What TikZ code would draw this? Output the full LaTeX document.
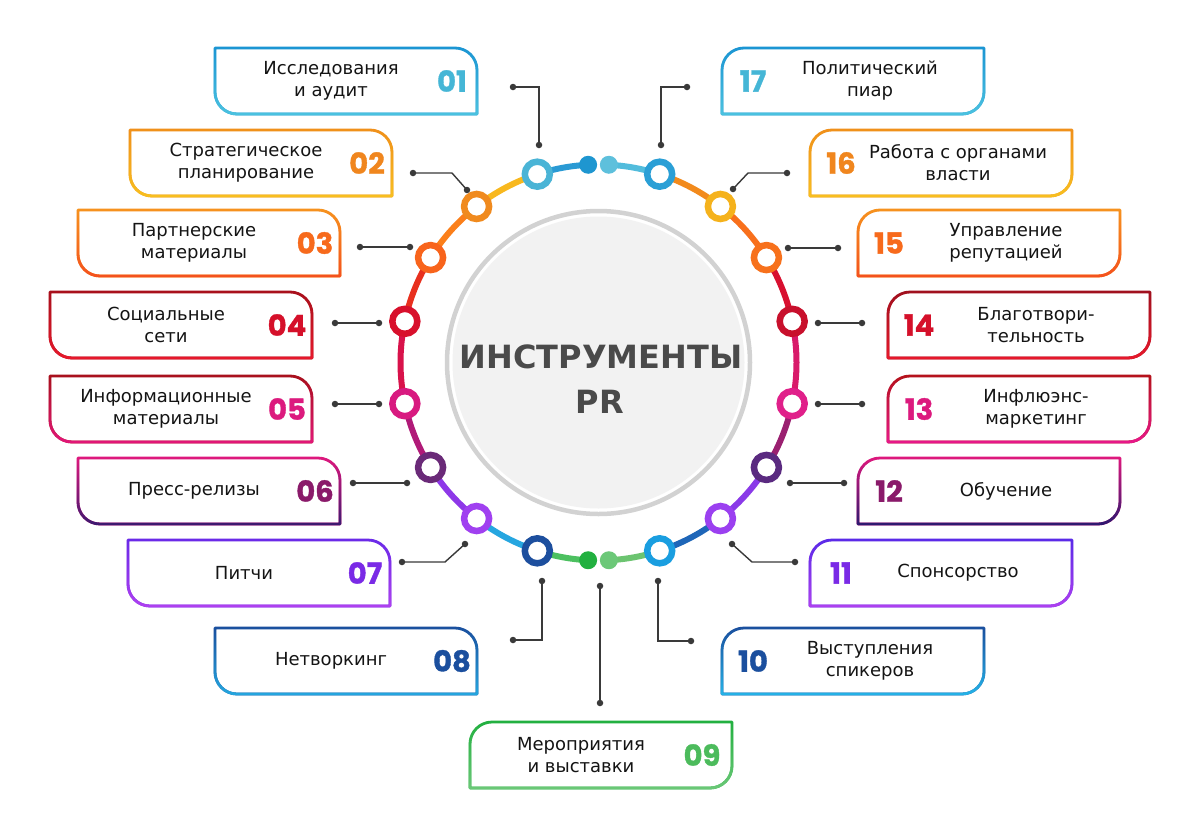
\documentclass[tikz,border=0pt]{standalone}
\usepackage{fontspec}
\setmainfont{DejaVu Sans}
\newfontfamily\numfont{Poppins}[BoldFeatures={FakeBold=1.2}]
\usetikzlibrary{fadings,calc}
\definecolor{connc}{HTML}{3A3A3A}
\definecolor{cgrey}{HTML}{D2D2D2}
\definecolor{cfill}{HTML}{F2F2F2}
\definecolor{titlec}{HTML}{4A4A4A}
% box colours
\definecolor{b01t}{HTML}{1B95D3}\definecolor{b01b}{HTML}{4CC3E0}\definecolor{n01}{HTML}{45B6D6}
\definecolor{b02t}{HTML}{F0901A}\definecolor{b02b}{HTML}{F8C020}\definecolor{n02}{HTML}{F0861E}
\definecolor{b03t}{HTML}{F7931E}\definecolor{b03b}{HTML}{F4501E}\definecolor{n03}{HTML}{F76A1C}
\definecolor{b04t}{HTML}{A8101C}\definecolor{b04b}{HTML}{E8192C}\definecolor{n04}{HTML}{D5102A}
\definecolor{b05t}{HTML}{A8101C}\definecolor{b05b}{HTML}{E3177A}\definecolor{n05}{HTML}{DC1A7E}
\definecolor{b06t}{HTML}{E0187E}\definecolor{b06b}{HTML}{3A1A70}\definecolor{n06}{HTML}{8A1A6A}
\definecolor{b07t}{HTML}{6A2AE8}\definecolor{b07b}{HTML}{B040F0}\definecolor{n07}{HTML}{7A2AE6}
\definecolor{b08t}{HTML}{1A4F9E}\definecolor{b08b}{HTML}{25A8E0}\definecolor{n08}{HTML}{1B4F9E}
\definecolor{b09t}{HTML}{22B040}\definecolor{b09b}{HTML}{6CC878}\definecolor{n09}{HTML}{4CBB5C}
\definecolor{b10t}{HTML}{1A4F9E}\definecolor{b10b}{HTML}{25B4E8}\definecolor{n10}{HTML}{1B4F9E}
\definecolor{b11t}{HTML}{5A2AE8}\definecolor{b11b}{HTML}{B040F0}\definecolor{n11}{HTML}{7A2AE6}
\definecolor{b12t}{HTML}{E0187E}\definecolor{b12b}{HTML}{2A1A70}\definecolor{n12}{HTML}{8A1A6A}
\definecolor{b13t}{HTML}{B5121B}\definecolor{b13b}{HTML}{E8188C}\definecolor{n13}{HTML}{DC1A7E}
\definecolor{b14t}{HTML}{A0101E}\definecolor{b14b}{HTML}{E8192C}\definecolor{n14}{HTML}{D5102A}
\definecolor{b15t}{HTML}{F7931E}\definecolor{b15b}{HTML}{F4501E}\definecolor{n15}{HTML}{F76A1C}
\definecolor{b16t}{HTML}{F0901A}\definecolor{b16b}{HTML}{F8C020}\definecolor{n16}{HTML}{F0861E}
\definecolor{b17t}{HTML}{1B95D3}\definecolor{b17b}{HTML}{4CC3E0}\definecolor{n17}{HTML}{45B6D6}
% ring circle colours
\definecolor{r01}{HTML}{4AB4D6}\definecolor{r02}{HTML}{F08A1E}\definecolor{r03}{HTML}{F8641C}
\definecolor{r04}{HTML}{D8102C}\definecolor{r05}{HTML}{D81A80}\definecolor{r06}{HTML}{6A2A78}
\definecolor{r07}{HTML}{A040F0}\definecolor{r08}{HTML}{1D4F9E}\definecolor{r10}{HTML}{1A9EE0}
\definecolor{r11}{HTML}{9B40F0}\definecolor{r12}{HTML}{5A2A80}\definecolor{r13}{HTML}{E0208A}
\definecolor{r14}{HTML}{C8102C}\definecolor{r15}{HTML}{F7711C}\definecolor{r16}{HTML}{F5B21C}
\definecolor{r17}{HTML}{2A9FD6}
% segment colours
\definecolor{s1}{HTML}{2A9AD4}\definecolor{s2}{HTML}{F8B81E}\definecolor{s3}{HTML}{FB7F1A}
\definecolor{s4}{HTML}{E8301E}\definecolor{s5}{HTML}{D8124A}\definecolor{s6}{HTML}{B01A78}
\definecolor{s7}{HTML}{8E38E8}\definecolor{s8}{HTML}{26A6E0}\definecolor{s9}{HTML}{4CC060}
\definecolor{t1}{HTML}{52BCDC}\definecolor{t2}{HTML}{F28A1C}\definecolor{t3}{HTML}{F8701C}
\definecolor{t4}{HTML}{D81030}\definecolor{t5}{HTML}{D81A6A}\definecolor{t6}{HTML}{9A2070}
\definecolor{t7}{HTML}{8A3AE8}\definecolor{t8}{HTML}{1E66B8}\definecolor{t9}{HTML}{6CC470}
\definecolor{e1}{HTML}{1E96D0}\definecolor{e2}{HTML}{5EC0DC}\definecolor{e3}{HTML}{22B040}\definecolor{e4}{HTML}{6CC878}

\tikzset{
  boxtext/.style={align=center,font=\fontsize{18}{22}\selectfont,text=black!92,inner sep=0pt},
  numtext/.style={font=\numfont\bfseries\fontsize{29}{29}\selectfont,inner sep=0pt},
  boxframe/.style={line width=2.8pt,line join=round},
  ringnode/.style={circle,draw=#1,line width=6.5pt,fill=white,minimum size=25pt,inner sep=0pt},
  enddot/.style={circle,fill=#1,minimum size=18pt,inner sep=0pt},
  dotnode/.style={circle,fill=connc,minimum size=6.5pt,inner sep=0pt},
  conn/.style={draw=connc,line width=1.4pt},
  seg/.style={line width=6pt},
  titletext/.style={font=\bfseries\fontsize{32}{32}\selectfont,text=titlec,inner sep=0pt}
}
\def\LPath#1#2{(#1,-#2) -- ({#1+240},-#2) arc[start angle=90,end angle=0,radius=22] -- ({#1+262},{-#2-66}) -- ({#1+22},{-#2-66}) arc[start angle=270,end angle=180,radius=22] -- cycle}
\def\RPath#1#2{(#1,{-#2-66}) -- (#1,{-#2-22}) arc[start angle=180,end angle=90,radius=22] -- ({#1+262},-#2) -- ({#1+262},{-#2-44}) arc[start angle=0,end angle=-90,radius=22] -- cycle}
% #1 id, #2 left, #3 top, #4 text, #5 text offset, #6 number offset
\newcommand\LBox[6]{%
  \draw[boxframe,draw=b#1t] \LPath{#2}{#3};
  \draw[boxframe,draw=b#1b,path fading=north] \LPath{#2}{#3};
  \node[boxtext] (bx#1) at ({#2+#5},{-#3-33}) {#4};
  \node[numtext,text=n#1] (nb#1) at ({#2+#6},{-#3-33}) {#1};
}
\newcommand\RBox[6]{%
  \draw[boxframe,draw=b#1t] \RPath{#2}{#3};
  \draw[boxframe,draw=b#1b,path fading=north] \RPath{#2}{#3};
  \node[boxtext] (bx#1) at ({#2+#5},{-#3-33}) {#4};
  \node[numtext,text=n#1] (nb#1) at ({#2+#6},{-#3-33}) {#1};
}

\begin{document}
\begin{tikzpicture}[x=1pt,y=1pt]
\useasboundingbox (0,0) rectangle (1200,-833);
\fill[white] (0,0) rectangle (1200,-833);

% central circle
\coordinate (C) at (598.5,-362.5);
\fill[white] (C) circle[radius=156];
\draw[draw=cgrey,line width=4.5pt] (C) circle[radius=151.5];
\fill[cfill] (C) circle[radius=146];
\node[titletext] (title) at (601,-357) {ИНСТРУМЕНТЫ};
\node[titletext] (pr) at (600,-402) {PR};

% ring segments
\foreach \a/\b/\c in {93/108/s1,108/128/s2,128/148/s3,148/168/s4,168/192/s5,192/212/s6,212/232/s7,232/252/s8,252/267/s9,
                      87/72/t1,72/52/t2,52/32/t3,32/12/t4,12/-12/t5,-12/-32/t6,-32/-52/t7,-52/-72/t8,-72/-87/t9}
  \draw[seg,draw=\c] ($(C)+(\a:198)$) arc[start angle=\a,end angle=\b,radius=198];

% end dots
\node[enddot=e1] (eTL) at ($(C)+(93:198)$) {};
\node[enddot=e2] (eTR) at ($(C)+(87:198)$) {};
\node[enddot=e3] (eBL) at ($(C)+(267:198)$) {};
\node[enddot=e4] (eBR) at ($(C)+(273:198)$) {};

% ring circles
\foreach \n/\a in {01/108,02/128,03/148,04/168,05/192,06/212,07/232,08/252,
                   17/72,16/52,15/32,14/12,13/-12,12/-32,11/-52,10/-72}
  \node[ringnode=r\n] (c\n) at ($(C)+(\a:198)$) {};

% boxes
\LBox{01}{215}{48}{Исследования\\и аудит}{116}{237}
\LBox{02}{130}{130}{Стратегическое\\планирование}{116}{237}
\LBox{03}{78}{210}{Партнерские\\материалы}{116}{237}
\LBox{04}{50}{292}{Социальные\\сети}{116}{237}
\LBox{05}{50}{376}{Информационные\\материалы}{116}{237}
\LBox{06}{78}{458}{Пресс-релизы}{116}{237}
\LBox{07}{128}{540}{Питчи}{116}{237}
\LBox{08}{215}{628}{Нетворкинг}{116}{237}
\RBox{09}{470}{722}{Мероприятия\\и выставки}{111}{232}
\RBox{10}{722}{628}{Выступления\\спикеров}{148}{31}
\RBox{11}{810}{540}{Спонсорство}{148}{31}
\RBox{12}{858}{458}{Обучение}{148}{31}
\RBox{13}{888}{376}{Инфлюэнс-\\маркетинг}{148}{31}
\RBox{14}{888}{292}{Благотвори-\\тельность}{148}{31}
\RBox{15}{858}{210}{Управление\\репутацией}{148}{31}
\RBox{16}{810}{130}{Работа с органами\\власти}{148}{31}
\RBox{17}{722}{48}{Политический\\пиар}{148}{31}

% connectors
\node[dotnode] (k01a) at (513,-87) {};  \node[dotnode] (k01b) at (539,-145) {};
\draw[conn] (k01a.center) -| (k01b.center);
\node[dotnode] (k02a) at (413,-173) {}; \node[dotnode] (k02b) at (467,-190) {};
\coordinate (k02c) at (452,-173);
\draw[conn] (k02a.center) -- (k02c) -- (k02b.center);
\node[dotnode] (k03a) at (360,-247) {}; \node[dotnode] (k03b) at (410,-247) {};
\draw[conn] (k03a.center) -- (k03b.center);
\node[dotnode] (k04a) at (335,-323) {}; \node[dotnode] (k04b) at (379,-323) {};
\draw[conn] (k04a.center) -- (k04b.center);
\node[dotnode] (k05a) at (335,-404) {}; \node[dotnode] (k05b) at (379,-404) {};
\draw[conn] (k05a.center) -- (k05b.center);
\node[dotnode] (k06a) at (353,-483) {}; \node[dotnode] (k06b) at (407,-483) {};
\draw[conn] (k06a.center) -- (k06b.center);
\node[dotnode] (k07a) at (402,-562) {}; \node[dotnode] (k07b) at (465,-544) {};
\coordinate (k07c) at (445,-562);
\draw[conn] (k07a.center) -- (k07c) -- (k07b.center);
\node[dotnode] (k08a) at (513,-640) {}; \node[dotnode] (k08b) at (542,-581) {};
\draw[conn] (k08a.center) -| (k08b.center);
\node[dotnode] (k09a) at (600,-703) {}; \node[dotnode] (k09b) at (600,-586) {};
\draw[conn] (k09a.center) -- (k09b.center);
\node[dotnode] (k10a) at (691,-641) {}; \node[dotnode] (k10b) at (658,-581) {};
\draw[conn] (k10a.center) -| (k10b.center);
\node[dotnode] (k11a) at (795,-562) {}; \node[dotnode] (k11b) at (732,-544) {};
\coordinate (k11c) at (752,-562);
\draw[conn] (k11a.center) -- (k11c) -- (k11b.center);
\node[dotnode] (k12a) at (844,-483) {}; \node[dotnode] (k12b) at (790,-483) {};
\draw[conn] (k12a.center) -- (k12b.center);
\node[dotnode] (k13a) at (862,-404) {}; \node[dotnode] (k13b) at (818,-404) {};
\draw[conn] (k13a.center) -- (k13b.center);
\node[dotnode] (k14a) at (862,-323) {}; \node[dotnode] (k14b) at (818,-323) {};
\draw[conn] (k14a.center) -- (k14b.center);
\node[dotnode] (k15a) at (838,-248) {}; \node[dotnode] (k15b) at (788,-248) {};
\draw[conn] (k15a.center) -- (k15b.center);
\node[dotnode] (k16a) at (787,-173) {}; \node[dotnode] (k16b) at (733,-189) {};
\coordinate (k16c) at (748,-173);
\draw[conn] (k16a.center) -- (k16c) -- (k16b.center);
\node[dotnode] (k17a) at (687,-87) {};  \node[dotnode] (k17b) at (661,-145) {};
\draw[conn] (k17a.center) -| (k17b.center);
\end{tikzpicture}
\end{document}
